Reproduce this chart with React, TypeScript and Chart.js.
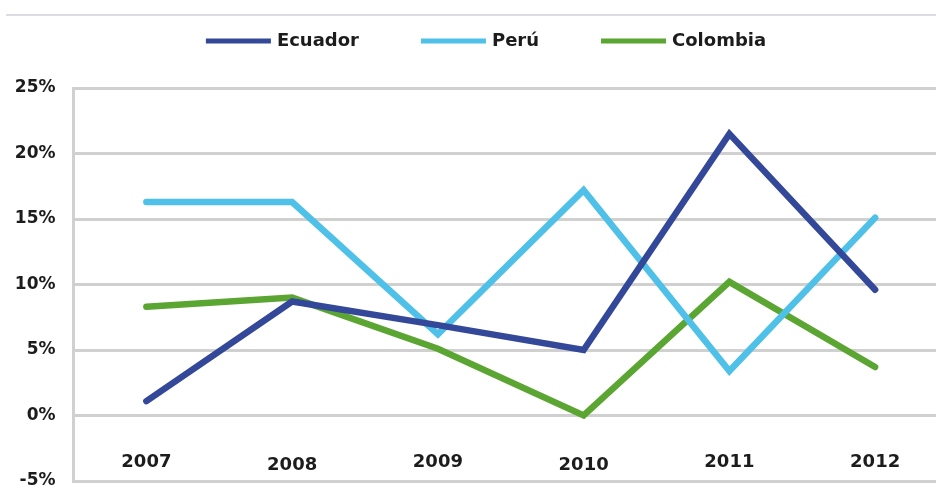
import React, { useEffect, useRef } from "react";
import { Chart, registerables } from "chart.js";

Chart.register(...registerables);

const years = ["2007", "2008", "2009", "2010", "2011", "2012"];
const ecuador = [1.1, 8.7, 6.9, 5.0, 21.5, 9.6];
const peru = [16.3, 16.3, 6.2, 17.2, 3.4, 15.1];
const colombia = [8.3, 9.0, 5.1, 0.0, 10.2, 3.7];
const seriesNames = ["Ecuador", "Perú", "Colombia"];
const seriesColors = ["#34489A", "#4FC0E8", "#5BA532"];

const FONT = "'DejaVu Sans', sans-serif";
const TEXT = "#1c1c1c";

const topRulePlugin = {
  id: "topRule",
  beforeDraw(chart: any) {
    const ctx = chart.ctx;
    ctx.save();
    ctx.strokeStyle = "#DCDCE3";
    ctx.lineWidth = 2;
    ctx.beginPath();
    ctx.moveTo(6, 15);
    ctx.lineTo(chart.width, 15);
    ctx.stroke();
    ctx.restore();
  },
};

// Category labels drawn inside the plot, just above its bottom edge,
// positioned through the category scale.
const innerXLabelsPlugin = {
  id: "innerXLabels",
  afterDatasetsDraw(chart: any) {
    const ctx = chart.ctx;
    const xs = chart.scales.x;
    const area = chart.chartArea;
    ctx.save();
    ctx.font = `bold 18px ${FONT}`;
    ctx.fillStyle = TEXT;
    ctx.textAlign = "center";
    ctx.textBaseline = "middle";
    (chart.data.labels as string[]).forEach((lab, i) => {
      const x = xs.getPixelForValue(i);
      const y = area.bottom - 19 + (i === 1 || i === 3 ? 3 : 0);
      ctx.fillText(lab, x, y);
    });
    ctx.restore();
  },
};

const lineLegendPlugin = {
  id: "lineLegend",
  afterDraw(chart: any) {
    const ctx = chart.ctx;
    ctx.save();
    ctx.font = `bold 18px ${FONT}`;
    const sample = 65;
    const gapText = 6;
    const gapItem = 62;
    const items = chart.data.datasets.map((d: any) => ({
      label: d.label,
      color: d.borderColor,
      w: ctx.measureText(d.label).width,
    }));
    let total = 0;
    items.forEach((it: any, i: number) => {
      total += sample + gapText + it.w + (i < items.length - 1 ? gapItem : 0);
    });
    let x = 486 - total / 2;
    const y = 41;
    items.forEach((it: any) => {
      ctx.fillStyle = it.color;
      ctx.fillRect(x, y - 2.5, sample, 5);
      x += sample + gapText;
      ctx.fillStyle = TEXT;
      ctx.textBaseline = "middle";
      ctx.textAlign = "left";
      ctx.fillText(it.label, x, y);
      x += it.w + gapItem;
    });
    ctx.restore();
  },
};

export default function App() {
  const canvasRef = useRef<HTMLCanvasElement | null>(null);

  useEffect(() => {
    if (!canvasRef.current) return;
    const series = [ecuador, peru, colombia];
    const chart = new Chart(canvasRef.current, {
      type: "line",
      data: {
        labels: years,
        datasets: series.map((vals, i) => ({
          label: seriesNames[i],
          data: vals,
          borderColor: seriesColors[i],
          backgroundColor: seriesColors[i],
          borderWidth: 6.5,
          pointRadius: 0,
          pointHoverRadius: 0,
          tension: 0,
          borderCapStyle: "round",
          borderJoinStyle: "miter",
          fill: false,
        })),
      },
      options: {
        responsive: false,
        animation: false,
        devicePixelRatio: 1,
        layout: { padding: { top: 88, right: 2, bottom: 29, left: 0 } },
        plugins: {
          legend: { display: false },
          tooltip: { enabled: false },
          title: { display: false },
        },
        scales: {
          x: {
            type: "category",
            display: false,
            offset: true,
          },
          y: {
            min: -5,
            max: 25,
            grid: { color: "#D0D0D0", lineWidth: 3, drawTicks: false },
            border: { display: true, color: "#D0D0D0", width: 3 },
            ticks: {
              stepSize: 5,
              padding: 18,
              color: TEXT,
              font: { family: FONT, size: 17, weight: "bold" },
              callback: (v: any) => `${v}%`,
            },
            afterFit(scale: any) {
              scale.width = 73.5;
            },
          },
        },
      },
      plugins: [topRulePlugin, innerXLabelsPlugin, lineLegendPlugin],
    } as any);
    return () => chart.destroy();
  }, []);

  return (
    <div
      style={{
        position: "fixed",
        top: 0,
        left: 0,
        width: 936,
        height: 492,
        overflow: "hidden",
        background: "#ffffff",
      }}
    >
      <canvas
        ref={canvasRef}
        width={950}
        height={510}
        style={{ display: "block", width: 950, height: 510 }}
      />
    </div>
  );
}
